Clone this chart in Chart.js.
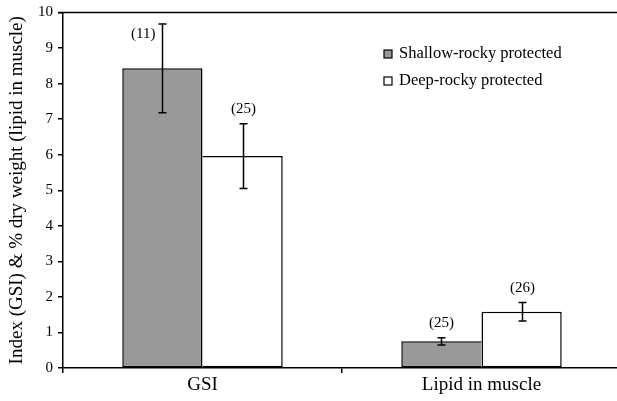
<!DOCTYPE html>
<html>
<head>
<meta charset="utf-8">
<script src="https://cdn.jsdelivr.net/npm/chart.js@4"></script>
<style>
    body { margin: 0; background: #fff; overflow: hidden; }
    canvas { display: block; }
</style>
</head>
<body>
<canvas id="fig-chart" width="621" height="401"></canvas>
<script>
// categories and series
const categories = ['GSI', 'Lipid in muscle'];
const seriesNames = ['Shallow-rocky protected', 'Deep-rocky protected'];
const shallowValues = [8.43, 0.75];
const deepValues = [5.96, 1.58];
const shallowErrors = [1.25, 0.10];
const deepErrors = [0.91, 0.26];
const shallowN = ['(11)', '(25)'];
const deepN = ['(25)', '(26)'];
const yTicks = [0, 1, 2, 3, 4, 5, 6, 7, 8, 9, 10];

const serif = "'Liberation Serif', 'DejaVu Serif', serif";
const bw = 1.5;

// the two bars of a group share one dividing line: the taller bar keeps it
function shallowBorder(c) {
    const i = c.dataIndex;
    return { left: bw, top: bw, bottom: bw, right: deepValues[i] > shallowValues[i] ? 0 : bw };
}
function deepBorder(c) {
    const i = c.dataIndex;
    return { left: deepValues[i] > shallowValues[i] ? bw : 0, top: bw, bottom: bw, right: bw };
}

// error bars + sample sizes, drawn from the bar elements and y scale
const errorBarPlugin = {
    id: 'errorBars',
    afterDatasetsDraw(chart) {
        const ctx = chart.ctx;
        const yScale = chart.scales.y;
        const area = chart.chartArea;
        ctx.save();
        chart.data.datasets.forEach((ds, i) => {
            const meta = chart.getDatasetMeta(i);
            meta.data.forEach((bar, j) => {
                const v = ds.data[j];
                const e = ds.errors[j];
                const top = yScale.getPixelForValue(v + e);
                const bot = yScale.getPixelForValue(v - e);
                const x = Math.round(bar.x) + 0.5;
                ctx.strokeStyle = '#000';
                ctx.lineWidth = 1.5;
                ctx.beginPath();
                ctx.moveTo(x, top); ctx.lineTo(x, bot);
                ctx.moveTo(x - 4, top); ctx.lineTo(x + 4, top);
                ctx.moveTo(x - 4, bot); ctx.lineTo(x + 4, bot);
                ctx.stroke();

                ctx.fillStyle = '#000';
                ctx.font = '15px ' + serif;
                ctx.textBaseline = 'middle';
                if (top - 15 < area.top + 8) {
                    // no room above: put it left of the bar
                    ctx.textAlign = 'right';
                    ctx.fillText(ds.nLabels[j], x - 7, top + 10);
                } else {
                    ctx.textAlign = 'center';
                    ctx.fillText(ds.nLabels[j], x, top - 15);
                }
            });
        });
        ctx.restore();
    }
};

// top frame line and the legend box inside the plot
const framePlugin = {
    id: 'frame',
    afterDraw(chart) {
        const ctx = chart.ctx;
        const area = chart.chartArea;
        ctx.save();
        ctx.strokeStyle = '#000';
        ctx.lineWidth = 1.5;
        ctx.beginPath();
        ctx.moveTo(area.left - 5, area.top);
        ctx.lineTo(area.right, area.top);
        ctx.stroke();

        ctx.font = '16.5px ' + serif;
        ctx.textAlign = 'left';
        ctx.textBaseline = 'middle';
        chart.data.datasets.forEach((ds, i) => {
            const y = 54 + i * 27;
            ctx.fillStyle = ds.backgroundColor;
            ctx.fillRect(384, y - 4, 8, 8);
            ctx.lineWidth = 1.2;
            ctx.strokeRect(384, y - 4, 8, 8);
            ctx.fillStyle = '#000';
            ctx.fillText(ds.label, 399, y);
        });
        ctx.restore();
    }
};

const ctx = document.getElementById('fig-chart').getContext('2d');
const figChart = new Chart(ctx, {
    type: 'bar',
    data: {
        labels: categories,
        datasets: [{
            label: seriesNames[0],
            data: shallowValues,
            errors: shallowErrors,
            nLabels: shallowN,
            backgroundColor: '#999999',
            borderColor: '#000',
            borderWidth: shallowBorder,
            borderSkipped: false,
            barPercentage: 1,
            categoryPercentage: 0.575
        }, {
            label: seriesNames[1],
            data: deepValues,
            errors: deepErrors,
            nLabels: deepN,
            backgroundColor: '#ffffff',
            borderColor: '#000',
            borderWidth: deepBorder,
            borderSkipped: false,
            barPercentage: 1,
            categoryPercentage: 0.575
        }]
    },
    options: {
        responsive: false,
        animation: false,
        layout: { padding: { top: 12, right: 0, left: 0, bottom: 0 } },
        plugins: {
            legend: { display: false },
            tooltip: { enabled: false }
        },
        scales: {
            x: {
                afterFit: (s) => { s.height = 33; },
                border: { color: '#000', width: 1.5 },
                grid: { offset: true, drawOnChartArea: false, color: '#000', tickLength: 5, lineWidth: 1.5 },
                ticks: { color: '#000', font: { family: serif, size: 19 }, padding: 1 }
            },
            y: {
                min: 0,
                max: 10,
                afterFit: (s) => { s.width = 63; },
                afterBuildTicks: (s) => { s.ticks = yTicks.map(v => ({ value: v })); },
                border: { color: '#000', width: 1.5 },
                grid: { drawOnChartArea: false, color: '#000', tickLength: 5, lineWidth: 1.5 },
                ticks: { color: '#000', font: { family: serif, size: 15, lineHeight: 1 }, padding: 5 },
                title: {
                    display: true,
                    text: 'Index (GSI) & % dry weight (lipid in muscle)',
                    color: '#000',
                    font: { family: serif, size: 19 },
                    padding: { top: 6, bottom: 0 }
                }
            }
        }
    },
    plugins: [errorBarPlugin, framePlugin]
});
</script>
</body>
</html>
